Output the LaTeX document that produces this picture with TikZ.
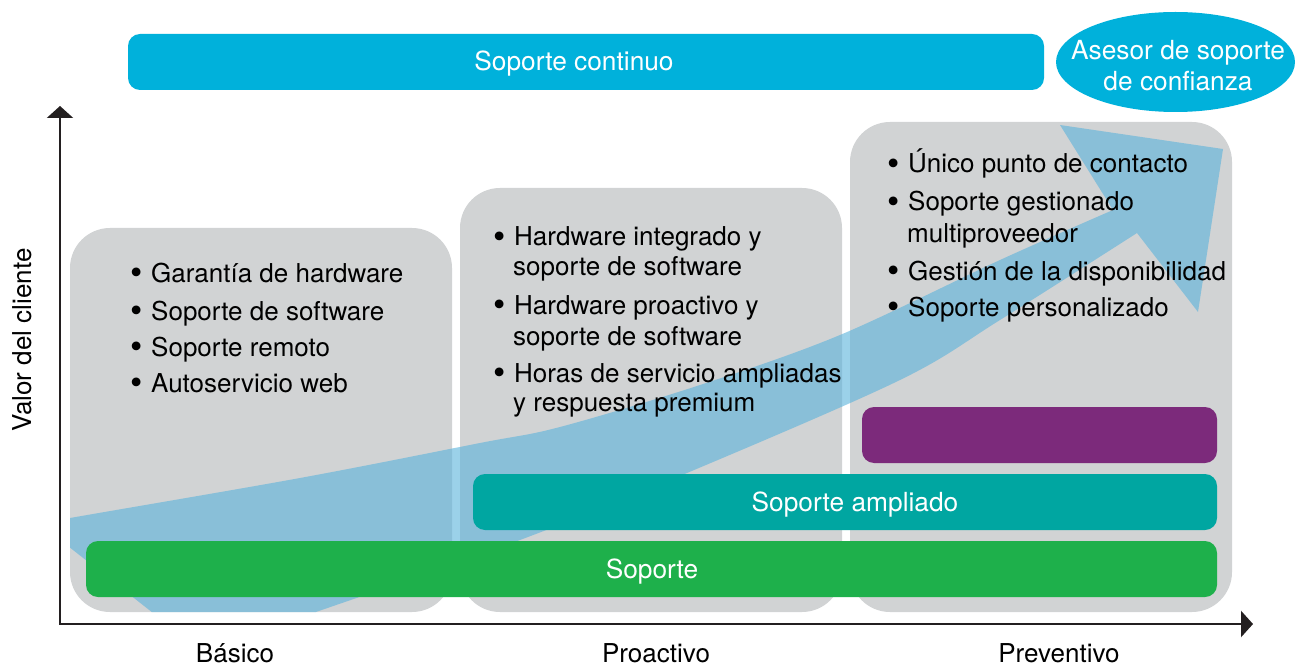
\documentclass[tikz,border=0pt]{standalone}
\usepackage{fontspec}
\usepackage{graphicx}
\setmainfont{TeX Gyre Heros}
\usetikzlibrary{arrows.meta,shapes.geometric}
\definecolor{panelgray}{HTML}{D1D3D4}
\definecolor{skyband}{HTML}{00B1DB}
\definecolor{greenband}{HTML}{1EB04B}
\definecolor{tealband}{HTML}{00A6A1}
\definecolor{purpleband}{HTML}{7C2A7B}
\definecolor{axisink}{HTML}{231F20}
\definecolor{arrowblue}{RGB}{89,178,219}
% hanging bullet placed left of the item text
\newcommand\itemdot{\llap{\raisebox{-2.8pt}{\scalebox{1.35}{\textbullet}}\hspace{8pt}}}

\begin{document}
\begin{tikzpicture}[x=1pt,y=-1pt,
  panel/.style={fill=panelgray, draw=none, rounded corners=40pt, inner sep=0pt, minimum width=382pt},
  band/.style={draw=none, rounded corners=12pt, minimum height=56pt, inner sep=0pt},
  bandtext/.style={anchor=base, inner sep=0pt, text=white, font=\fontsize{26.3}{30}\selectfont},
  item/.style={anchor=base west, inner sep=0pt, font=\fontsize{26}{30}\selectfont},
  axislbl/.style={anchor=base, inner sep=0pt, font=\fontsize{26}{30}\selectfont},
  axisline/.style={draw=axisink, line width=2.5pt, miter limit=10,
    {Triangle[length=12pt,width=26pt]}-{Triangle[length=12pt,width=26pt]}}]

\useasboundingbox (0,0) rectangle (1300,668);

% three stage panels
\node[panel, minimum height=384pt] (basico) at (261,420) {};
\node[panel, minimum height=424pt] (proactivo) at (651,400) {};
\node[panel, minimum height=490pt] (preventivo) at (1041,367) {};

% rising value arrow, kept inside the panel area
\begin{scope}
  \clip[rounded corners=40pt] (70,100) rectangle (1232,612);
  \fill[arrowblue, opacity=0.6]
    plot[smooth, tension=0.55] coordinates {(40,524) (70,518) (300,478) (480,443) (560,427) (700,385) (840,335) (1000,260) (1113,210)}
    -- (1060,125) -- (1223,149) -- (1198,312) -- (1137,233)
    -- plot[smooth, tension=0.55] coordinates {(1137,233) (1000,320) (900,380) (687,473) (520,540) (313,613) (200,650)}
    -- cycle;
\end{scope}

% axes
\coordinate (origin) at (60,624);
\coordinate (ytop) at (60,106);
\coordinate (xend) at (1253,624);
\draw[axisline] (ytop) -- (origin) -- (xend);

% service bands
\node[band, fill=skyband, minimum width=916pt] (continuo) at (586,62) {};
\node[bandtext] (continuotxt) at (574,71) {Soporte continuo};
\node[ellipse, fill=skyband, draw=none, minimum width=239pt, minimum height=100pt, inner sep=0pt] (asesor) at (1175.5,62) {};
\node[bandtext] (asesortxta) at (1178,60) {Asesor de soporte};
\node[bandtext] (asesortxtb) at (1178,91) {de confianza};

\node[band, fill=purpleband, minimum width=355pt] (purpura) at (1039.5,435) {};
\node[band, fill=tealband, minimum width=744pt] (ampliado) at (845,502) {};
\node[bandtext] (ampliadotxt) at (855,511) {Soporte ampliado};
\node[band, fill=greenband, minimum width=1131pt] (soporte) at (651.5,569) {};
\node[bandtext] (soportetxt) at (652,578) {Soporte};

% panel contents
\node[item] (b1) at (151,282) {\itemdot Garantía de hardware};
\node[item] (b2) at (151,320) {\itemdot Soporte de software};
\node[item] (b3) at (151,356) {\itemdot Soporte remoto};
\node[item] (b4) at (151,392) {\itemdot Autoservicio web};

\node[item] (p1) at (514,246) {\itemdot Hardware integrado y};
\node[item] (p1b) at (513,275) {soporte de software};
\node[item] (p2) at (514,314) {\itemdot Hardware proactivo y};
\node[item] (p2b) at (513,345) {soporte de software};
\node[item] (p3) at (514,382) {\itemdot Horas de servicio ampliadas};
\node[item] (p3b) at (513,411) {y respuesta premium};

\node[item] (v1) at (908,173) {\itemdot Único punto de contacto};
\node[item] (v2) at (908,211) {\itemdot Soporte gestionado};
\node[item] (v2b) at (907,243) {multiproveedor};
\node[item] (v3) at (908,280) {\itemdot Gestión de la disponibilidad};
\node[item] (v4) at (908,316) {\itemdot Soporte personalizado};

% axis labels
\node[axislbl] (lbasico) at (235,662) {Básico};
\node[axislbl] (lproactivo) at (656,662) {Proactivo};
\node[axislbl] (lpreventivo) at (1059,662) {Preventivo};
\node[rotate=90, inner sep=0pt, font=\fontsize{26}{30}\selectfont] (lvalor) at (22,340) {Valor del cliente};

\end{tikzpicture}
\end{document}
